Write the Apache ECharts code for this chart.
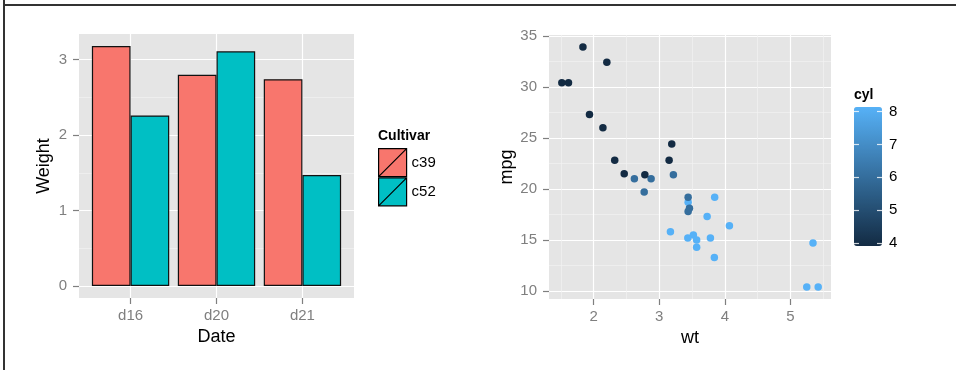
<!DOCTYPE html>
<html>
<head>
<meta charset="utf-8">
<script src="https://cdn.jsdelivr.net/npm/echarts@6/dist/echarts.min.js"></script>
<style>
html,body{margin:0;padding:0;background:#fff;}
#c{width:956px;height:370px;}
</style>
</head>
<body>
<div id="c"></div>
<script>
// ---- Left panel data ----
const dates = ['d16', 'd20', 'd21'];
const cultivars = ['c39', 'c52'];
const weightC39 = [3.18, 2.80, 2.74];
const weightC52 = [2.26, 3.11, 1.47];
const weightTicks = [0, 1, 2, 3];
const weightMinor = [0.5, 1.5, 2.5];

// ---- Right panel data (wt, mpg, cyl) ----
const wt  = [2.620, 2.875, 2.320, 3.215, 3.440, 3.460, 3.570, 3.190, 3.150, 3.440, 3.440, 4.070, 3.730, 3.780, 5.250, 5.424, 5.345, 2.200, 1.615, 1.835, 2.465, 3.520, 3.435, 3.840, 3.845, 1.935, 2.140, 1.513, 3.170, 2.770, 3.570, 2.780];
const mpg = [21.0, 21.0, 22.8, 21.4, 18.7, 18.1, 14.3, 24.4, 22.8, 19.2, 17.8, 16.4, 17.3, 15.2, 10.4, 10.4, 14.7, 32.4, 30.4, 33.9, 21.5, 15.5, 15.2, 13.3, 19.2, 27.3, 26.0, 30.4, 15.8, 19.7, 15.0, 21.4];
const cyl = [6, 6, 4, 6, 8, 6, 8, 4, 4, 6, 6, 8, 8, 8, 8, 8, 8, 4, 4, 4, 4, 8, 8, 8, 8, 4, 4, 4, 8, 6, 8, 4];
const wtTicks = [2, 3, 4, 5];
const wtMinor = [1.5, 2.5, 3.5, 4.5, 5.5];
const mpgTicks = [10, 15, 20, 25, 30, 35];
const mpgMinor = [12.5, 17.5, 22.5, 27.5, 32.5];
const cylTicks = [4, 5, 6, 7, 8];

const FONT = 'Liberation Sans, Arial, sans-serif';
const PANEL = '#E5E5E5';
const TICKCOL = '#7F7F7F';
const BAR_COLORS = ['#F8766D', '#00BFC4'];
const NOLINE = { show: false, onZero: false };

function majorAxis(extra) {
  return Object.assign({
    type: 'value',
    axisLine: NOLINE,
    nameTextStyle: { color: '#000', fontSize: 18, fontFamily: FONT }
  }, extra);
}
function minorAxis(extra) {
  return Object.assign({
    type: 'value',
    axisLine: NOLINE,
    axisLabel: { show: false }
  }, extra);
}
function ticks(vals, len) {
  return { show: true, length: len, customValues: vals, lineStyle: { color: TICKCOL, width: 1.2 } };
}
function labels(vals, margin, fmt) {
  const o = { color: TICKCOL, fontSize: 15, fontFamily: FONT, margin: margin, customValues: vals };
  if (fmt) o.formatter = fmt;
  return o;
}
function majorLines(vals) {
  return { show: true, customValues: vals, lineStyle: { color: '#FFFFFF', width: 1.2 } };
}
function minorLines(vals) {
  return { show: true, customValues: vals, lineStyle: { color: '#F2F2F2', width: 0.7 } };
}

const chart = echarts.init(document.getElementById('c'), null, { renderer: 'canvas' });

const wMin = -0.159, wMax = 3.339;
const xMin = 1.3175, xMax = 5.6196;
const yMin = 9.225, yMax = 35.075;

const option = {
  animation: false,
  backgroundColor: '#FFFFFF',
  textStyle: { fontFamily: FONT },
  title: [
    { text: 'Cultivar', left: 378, top: 129, padding: 0,
      textStyle: { fontSize: 14, fontWeight: 'bold', color: '#000', fontFamily: FONT } },
    { text: 'cyl', left: 854, top: 88, padding: 0,
      textStyle: { fontSize: 14, fontWeight: 'bold', color: '#000', fontFamily: FONT } }
  ],
  grid: [
    { left: 79, top: 34, width: 275, height: 264, show: true, backgroundColor: PANEL, borderWidth: 0, containLabel: false },
    { left: 549, top: 35, width: 282, height: 264, show: true, backgroundColor: PANEL, borderWidth: 0, containLabel: false },
    { left: 854, top: 111.7, width: 28, height: 131.3, show: false, containLabel: false }
  ],
  xAxis: [
    majorAxis({ gridIndex: 0, min: 0.4, max: 3.6,
      axisTick: ticks([1, 2, 3], 6),
      axisLabel: labels([1, 2, 3], 10, v => dates[Math.round(v) - 1]),
      splitLine: majorLines([1, 2, 3]),
      name: 'Date', nameLocation: 'middle', nameGap: 28 }),
    majorAxis({ gridIndex: 1, min: xMin, max: xMax,
      axisTick: ticks(wtTicks, 6),
      axisLabel: labels(wtTicks, 10),
      splitLine: majorLines(wtTicks),
      name: 'wt', nameLocation: 'middle', nameGap: 28 }),
    minorAxis({ gridIndex: 1, min: xMin, max: xMax,
      axisTick: { show: false, customValues: wtMinor },
      splitLine: minorLines(wtMinor) }),
    { type: 'value', gridIndex: 2, min: 1, max: 2, show: false, axisLine: NOLINE }
  ],
  yAxis: [
    majorAxis({ gridIndex: 0, min: wMin, max: wMax,
      axisTick: ticks(weightTicks, 6),
      axisLabel: labels(weightTicks, 12),
      splitLine: majorLines(weightTicks),
      name: 'Weight', nameLocation: 'middle', nameGap: 26, nameRotate: 90 }),
    minorAxis({ gridIndex: 0, min: wMin, max: wMax,
      axisTick: { show: false, customValues: weightMinor },
      splitLine: minorLines(weightMinor) }),
    majorAxis({ gridIndex: 1, min: yMin, max: yMax,
      axisTick: ticks(mpgTicks, 6),
      axisLabel: labels(mpgTicks, 12),
      splitLine: majorLines(mpgTicks),
      name: 'mpg', nameLocation: 'middle', nameGap: 28, nameRotate: 90 }),
    minorAxis({ gridIndex: 1, min: yMin, max: yMax,
      axisTick: { show: false, customValues: mpgMinor },
      splitLine: minorLines(mpgMinor) }),
    { type: 'value', gridIndex: 2, min: 4, max: 8, position: 'right', z: 10,
      axisLine: NOLINE,
      axisTick: { show: true, inside: true, length: 5, customValues: cylTicks, lineStyle: { color: '#FFFFFF', width: 1.2, opacity: 0.8 } },
      axisLabel: { show: true, color: '#000', fontSize: 15, fontFamily: FONT, margin: 7, customValues: cylTicks },
      splitLine: { show: false } },
    { type: 'value', gridIndex: 2, min: 4, max: 8, position: 'left', z: 10,
      axisLine: NOLINE,
      axisTick: { show: true, inside: true, length: 5, customValues: cylTicks, lineStyle: { color: '#FFFFFF', width: 1.2, opacity: 0.8 } },
      axisLabel: { show: false },
      splitLine: { show: false } }
  ],
  legend: {
    data: cultivars,
    orient: 'vertical',
    left: 378, top: 148,
    padding: 0,
    itemWidth: 28, itemHeight: 28, itemGap: 0,
    icon: 'path://M0,0H28V28H0Z M0,28L28,0',
    itemStyle: { borderColor: '#000', borderWidth: 1.2 },
    textStyle: { fontSize: 15, color: '#000', fontFamily: FONT },
    selectedMode: false
  },
  visualMap: {
    type: 'continuous',
    min: 4, max: 8,
    dimension: 2,
    seriesIndex: 2,
    calculable: false,
    hoverLink: false,
    left: 854, top: 107,
    padding: 0,
    itemWidth: 28, itemHeight: 139,
    inRange: { color: ['#132B43', '#56B1F7'] },
    showLabel: false
  },
  series: [
    { name: cultivars[0], type: 'bar', xAxisIndex: 0, yAxisIndex: 0,
      data: dates.map((d, i) => [i + 1, weightC39[i]]),
      barWidth: '45%', barGap: '0%',
      itemStyle: { color: BAR_COLORS[0], borderColor: '#111', borderWidth: 1.2 } },
    { name: cultivars[1], type: 'bar', xAxisIndex: 0, yAxisIndex: 0,
      data: dates.map((d, i) => [i + 1, weightC52[i]]),
      barWidth: '45%', barGap: '0%',
      itemStyle: { color: BAR_COLORS[1], borderColor: '#111', borderWidth: 1.2 } },
    { name: 'mtcars', type: 'scatter', xAxisIndex: 1, yAxisIndex: 2,
      symbolSize: 7.5,
      itemStyle: { opacity: 1 },
      data: wt.map((w, i) => [w, mpg[i], cyl[i]]) }
  ],
  graphic: [
    { type: 'line', shape: { x1: 4, y1: 0, x2: 4, y2: 370 }, style: { stroke: '#333', lineWidth: 2 }, silent: true },
    { type: 'line', shape: { x1: 3, y1: 5, x2: 956, y2: 5 }, style: { stroke: '#333', lineWidth: 2 }, silent: true }
  ]
};
chart.setOption(option);
</script>
</body>
</html>
